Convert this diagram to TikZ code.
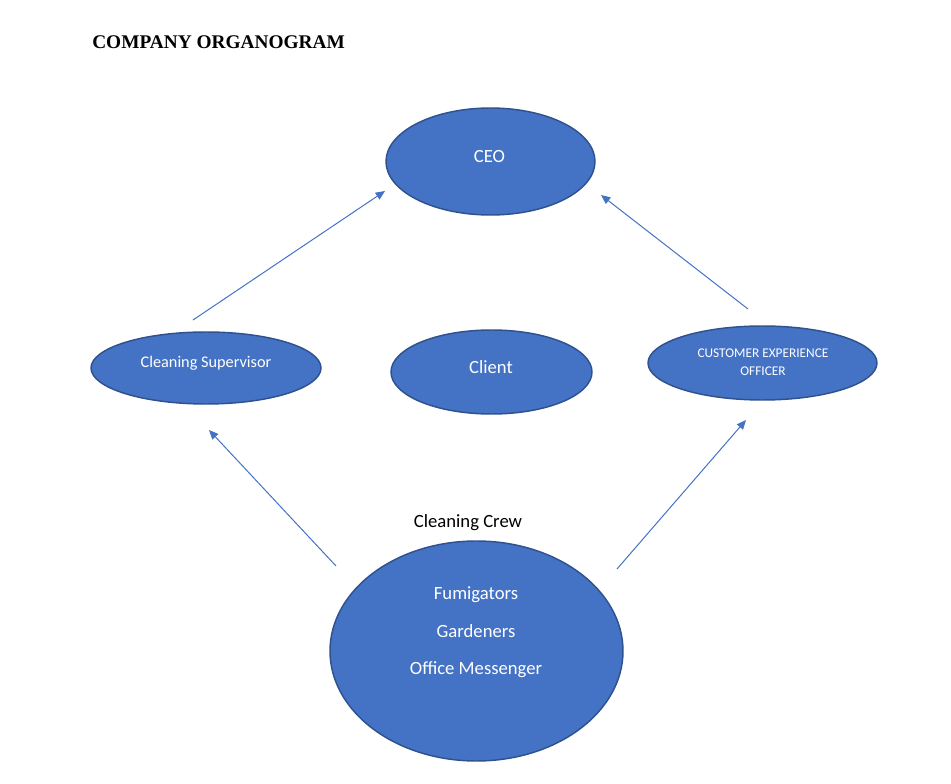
\documentclass[tikz,border=0pt]{standalone}
\usepackage{fontspec}
\setmainfont{Carlito}
\newfontfamily\titlefont{Liberation Serif}
\usetikzlibrary{shapes.geometric,arrows.meta}
\definecolor{fillblue}{HTML}{4472C4}
\definecolor{edgeblue}{HTML}{2F528F}
\tikzset{
  oval/.style={ellipse, draw=edgeblue, fill=fillblue, line width=1.1pt, inner sep=0pt},
  wtxt/.style={text=white, anchor=base, inner sep=0pt},
  conn/.style={draw=fillblue, line width=0.75pt, -{Triangle[length=7pt,width=6pt]}}
}
\begin{document}
\begin{tikzpicture}[x=0.75pt,y=-0.75pt]
\useasboundingbox (0,0) rectangle (951,784);
% title
\node[anchor=base west, inner sep=0pt, font=\titlefont\bfseries\fontsize{14.5pt}{17pt}\selectfont] (title) at (92,49) {COMPANY ORGANOGRAM};
% ellipses
\node[oval, minimum width=156.75pt, minimum height=80.25pt] (ceo) at (490.5,161.5) {};
\node[oval, minimum width=172.5pt, minimum height=54pt] (sup) at (206,368) {};
\node[oval, minimum width=150.75pt, minimum height=63pt] (client) at (491.5,372) {};
\node[oval, minimum width=171.75pt, minimum height=55.5pt] (ceoff) at (762.5,363) {};
\node[oval, minimum width=219.75pt, minimum height=165pt] (crew) at (476.5,651) {};
% texts
\node[wtxt, font=\fontsize{14pt}{17pt}\selectfont] (ceot) at (489.5,162.5) {CEO};
\node[wtxt, font=\fontsize{12.2pt}{14pt}\selectfont] (supt) at (206,367.5) {Cleaning Supervisor};
\node[wtxt, font=\fontsize{14pt}{17pt}\selectfont] (clientt) at (491,373.5) {Client};
\node[wtxt, font=\fontsize{10pt}{12pt}\selectfont] (ceofft1) at (763,358) {CUSTOMER EXPERIENCE};
\node[wtxt, font=\fontsize{10pt}{12pt}\selectfont] (ceofft2) at (763,376) {OFFICER};
\node[anchor=base, inner sep=0pt, font=\fontsize{14pt}{17pt}\selectfont] (crewlbl) at (468,527.5) {Cleaning Crew};
\node[wtxt, font=\fontsize{14pt}{17pt}\selectfont] (crew1) at (476,599.5) {Fumigators};
\node[wtxt, font=\fontsize{14pt}{17pt}\selectfont] (crew2) at (476,637.5) {Gardeners};
\node[wtxt, font=\fontsize{14pt}{17pt}\selectfont] (crew3) at (476,674.5) {Office Messenger};
% connector end points
\coordinate (a1s) at (193,320);
\coordinate (a1e) at (385,191);
\coordinate (a2s) at (748,309);
\coordinate (a2e) at (601,195);
\coordinate (a3s) at (336,566);
\coordinate (a3e) at (209,430);
\coordinate (a4s) at (617,569);
\coordinate (a4e) at (746,420);
\draw[conn] (a1s) -- (a1e);
\draw[conn] (a2s) -- (a2e);
\draw[conn] (a3s) -- (a3e);
\draw[conn] (a4s) -- (a4e);
\end{tikzpicture}
\end{document}
